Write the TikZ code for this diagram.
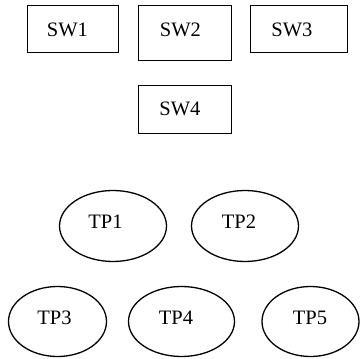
\documentclass[tikz,border=0pt]{standalone}
\usepackage{fontspec}
\setmainfont{Liberation Serif}
\usetikzlibrary{shapes.geometric}
\begin{document}
\begin{tikzpicture}[x=1pt,y=-1pt,
  sw/.style={draw,line width=1.3pt,rectangle,inner sep=0pt},
  tp/.style={draw,line width=1.3pt,ellipse,inner sep=0pt},
  lbl/.style={inner sep=0pt,font=\fontsize{20.5}{24}\selectfont,anchor=center}]
\useasboundingbox (0,0) rectangle (360,359);
% switches
\node[sw,minimum width=91pt,minimum height=47pt] (sw1) at (73,29) {};
\node[sw,minimum width=93pt,minimum height=55pt] (sw2) at (185,33) {};
\node[sw,minimum width=97pt,minimum height=47pt] (sw3) at (299,29) {};
\node[sw,minimum width=93pt,minimum height=48pt] (sw4) at (185,109.5) {};
\node[lbl] (sw1t) at (67.5,30) {SW1};
\node[lbl] (sw2t) at (180.5,30) {SW2};
\node[lbl] (sw3t) at (292,30) {SW3};
\node[lbl] (sw4t) at (180,109) {SW4};
% terminal points
\node[tp,minimum width=107pt,minimum height=71pt] (tp1) at (113,226) {};
\node[tp,minimum width=107pt,minimum height=71pt] (tp2) at (245,226) {};
\node[tp,minimum width=98pt,minimum height=70pt] (tp3) at (57.5,321.5) {};
\node[tp,minimum width=106pt,minimum height=70pt] (tp4) at (181.5,321.5) {};
\node[tp,minimum width=97pt,minimum height=70pt] (tp5) at (310.5,321.5) {};
\node[lbl] (tp1t) at (105.5,221.5) {TP1};
\node[lbl] (tp2t) at (239,221.5) {TP2};
\node[lbl] (tp3t) at (54.5,318) {TP3};
\node[lbl] (tp4t) at (176,318) {TP4};
\node[lbl] (tp5t) at (310,318) {TP5};
\end{tikzpicture}
\end{document}
